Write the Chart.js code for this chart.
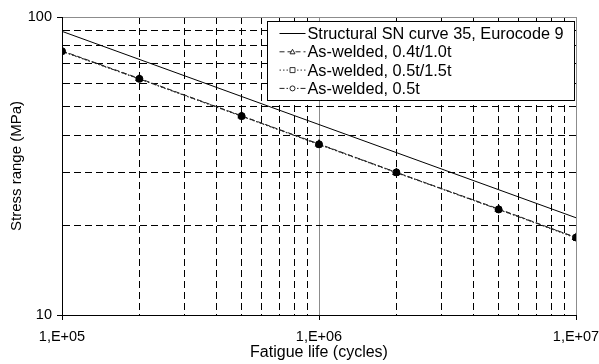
<!DOCTYPE html>
<html>
<head>
<meta charset="utf-8">
<script src="https://cdn.jsdelivr.net/npm/chart.js@4"></script>
<style>
  html, body { margin: 0; padding: 0; background: #fff; }
  #wrap { width: 599px; height: 364px; }
</style>
</head>
<body>
<div id="wrap"><canvas id="chart"></canvas></div>
<script>
// data
const cycles = [1e5, 2e5, 5e5, 1e6, 2e6, 5e6, 1e7];
const snCycles = [1e5, 1e7];
const snCurve = [89.5, 21.2];
const welded04_10 = [77.0, 62.2, 46.6, 37.5, 30.1, 22.7, 18.2];
const welded05_15 = [76.6, 61.9, 46.4, 37.3, 30.0, 22.6, 18.1];
const welded05 = [76.8, 62.0, 46.5, 37.4, 30.1, 22.6, 18.2];

const xTickValues = [1e5, 1e6, 1e7];
const xTickLabels = ['1,E+05', '1,E+06', '1,E+07'];
const yTickValues = [10, 100];
const yTickLabels = ['10', '100'];

const FONT = 'Liberation Sans, Arial, sans-serif';
const MAJOR_GRID = '#8c8c8c';

function toPoints(xs, ys) {
  return xs.map((x, i) => ({ x: x, y: ys[i] }));
}

// 1,2,...,9 x each decade between the given majors
function logTicks(majors) {
  const out = [];
  for (let i = 0; i < majors.length - 1; i++) {
    for (let k = 1; k < 10; k++) out.push({ value: majors[i] * k });
  }
  out.push({ value: majors[majors.length - 1] });
  return out;
}

function isMajor(values, v) {
  return values.some(m => Math.abs(m - v) / m < 1e-9);
}

function gridColor(values) {
  return ctx => {
    if (!ctx.tick) return '#000';
    const v = ctx.tick.value;
    if (Math.abs(v - values[0]) / values[0] < 1e-9) return '#000';
    return isMajor(values, v) ? MAJOR_GRID : '#000';
  };
}

function gridDash(values) {
  return ctx => (ctx.tick && !isMajor(values, ctx.tick.value)) ? [7, 4] : [];
}

function tickColor(values) {
  return ctx => (ctx.tick && isMajor(values, ctx.tick.value)) ? '#000' : 'rgba(0,0,0,0)';
}

// legend box drawn inside the plot, top right
const legendBox = {
  id: 'legendBox',
  afterDraw(chart) {
    const ctx = chart.ctx;
    const area = chart.chartArea;
    const w = 307, h = 79;
    const x0 = area.right - w - 1.5;
    const y0 = area.top + 4.5;
    ctx.save();
    ctx.fillStyle = '#fff';
    ctx.fillRect(x0, y0, w, h);
    ctx.strokeStyle = '#000';
    ctx.lineWidth = 1;
    ctx.strokeRect(x0, y0, w, h);
    ctx.font = '16.3px ' + FONT;
    ctx.textBaseline = 'middle';
    ctx.fillStyle = '#000';
    chart.data.datasets.forEach((ds, i) => {
      const y = y0 + 12 + i * 18.3;
      ctx.save();
      ctx.strokeStyle = ds.borderColor;
      ctx.lineWidth = 1;
      ctx.setLineDash(ds.borderDash || []);
      ctx.beginPath();
      ctx.moveTo(x0 + 12, y);
      ctx.lineTo(x0 + 38, y);
      ctx.stroke();
      ctx.setLineDash([]);
      const cx = x0 + 25, r = 2.5;
      if (i > 0) {
        ctx.fillStyle = '#fff';
        ctx.beginPath();
        if (ds.pointStyle === 'triangle') {
          ctx.moveTo(cx, y - r);
          ctx.lineTo(cx + r, y + r * 0.8);
          ctx.lineTo(cx - r, y + r * 0.8);
          ctx.closePath();
        } else if (ds.pointStyle === 'rect') {
          ctx.rect(cx - r, y - r, 2 * r, 2 * r);
        } else {
          ctx.arc(cx, y, r, 0, Math.PI * 2);
        }
        ctx.fill();
        ctx.stroke();
      }
      ctx.restore();
      ctx.fillText(ds.label, x0 + 40, y + 1);
    });
    ctx.restore();
  }
};

const ctx = document.getElementById('chart').getContext('2d');
new Chart(ctx, {
  type: 'line',
  data: {
    datasets: [
      {
        label: 'Structural SN curve 35, Eurocode 9',
        data: toPoints(snCycles, snCurve),
        borderColor: '#000',
        borderWidth: 1,
        pointRadius: 0,
        pointStyle: false,
        fill: false
      },
      {
        label: 'As-welded, 0.4t/1.0t',
        data: toPoints(cycles, welded04_10),
        borderColor: '#222',
        borderWidth: 1,
        borderDash: [5, 3],
        pointStyle: 'triangle',
        pointRadius: 3.5,
        pointBorderWidth: 1.5,
        pointBackgroundColor: '#000',
        pointBorderColor: '#000',
        fill: false
      },
      {
        label: 'As-welded, 0.5t/1.5t',
        data: toPoints(cycles, welded05_15),
        borderColor: '#333',
        borderWidth: 1,
        borderDash: [1.5, 2],
        pointStyle: 'rect',
        pointRadius: 3,
        pointBorderWidth: 1.5,
        pointBackgroundColor: '#000',
        pointBorderColor: '#000',
        fill: false
      },
      {
        label: 'As-welded, 0.5t',
        data: toPoints(cycles, welded05),
        borderColor: '#222',
        borderWidth: 1,
        borderDash: [5, 2, 1.5, 2],
        pointStyle: 'circle',
        pointRadius: 3.5,
        pointBorderWidth: 1,
        pointBackgroundColor: '#000',
        pointBorderColor: '#000',
        fill: false
      }
    ]
  },
  options: {
    responsive: true,
    maintainAspectRatio: false,
    animation: false,
    layout: { padding: { top: 17, right: 23, left: 0, bottom: 0 } },
    plugins: {
      legend: { display: false },
      tooltip: { enabled: false }
    },
    scales: {
      x: {
        type: 'logarithmic',
        min: 1e5,
        max: 1e7,
        afterBuildTicks: scale => { scale.ticks = logTicks(xTickValues); },
        afterFit: scale => {
          scale.height = 49;
          scale.paddingLeft = 0;
          scale.paddingRight = 0;
        },
        ticks: {
          autoSkip: false,
          maxRotation: 0,
          padding: 8,
          color: '#000',
          font: { family: FONT, size: 14.5 },
          callback: value => {
            const i = xTickValues.findIndex(m => Math.abs(m - value) / m < 1e-9);
            return i >= 0 ? xTickLabels[i] : '';
          }
        },
        grid: {
          color: gridColor(xTickValues),
          lineWidth: 1,
          drawTicks: true,
          tickLength: 5,
          tickColor: tickColor(xTickValues),
          tickBorderDash: []
        },
        border: { display: true, color: '#000', width: 1, dash: gridDash(xTickValues) },
        title: {
          display: true,
          text: 'Fatigue life (cycles)',
          color: '#000',
          font: { family: FONT, size: 16 },
          padding: { top: 0, bottom: 2 }
        }
      },
      y: {
        type: 'logarithmic',
        min: 10,
        max: 100,
        afterBuildTicks: scale => { scale.ticks = logTicks(yTickValues); },
        afterFit: scale => {
          scale.width = 62;
          scale.paddingTop = 0;
          scale.paddingBottom = 0;
        },
        ticks: {
          autoSkip: false,
          padding: 5,
          color: '#000',
          font: { family: FONT, size: 14.5 },
          callback: value => {
            const i = yTickValues.findIndex(m => Math.abs(m - value) / m < 1e-9);
            return i >= 0 ? yTickLabels[i] : '';
          }
        },
        grid: {
          color: gridColor(yTickValues),
          lineWidth: 1,
          drawTicks: true,
          tickLength: 5,
          tickColor: tickColor(yTickValues),
          tickBorderDash: []
        },
        border: { display: true, color: '#000', width: 1, dash: gridDash(yTickValues) },
        title: {
          display: true,
          text: 'Stress range (MPa)',
          color: '#000',
          font: { family: FONT, size: 15 },
          padding: { top: 8, bottom: 0 }
        }
      }
    }
  },
  plugins: [legendBox]
});
</script>
</body>
</html>
